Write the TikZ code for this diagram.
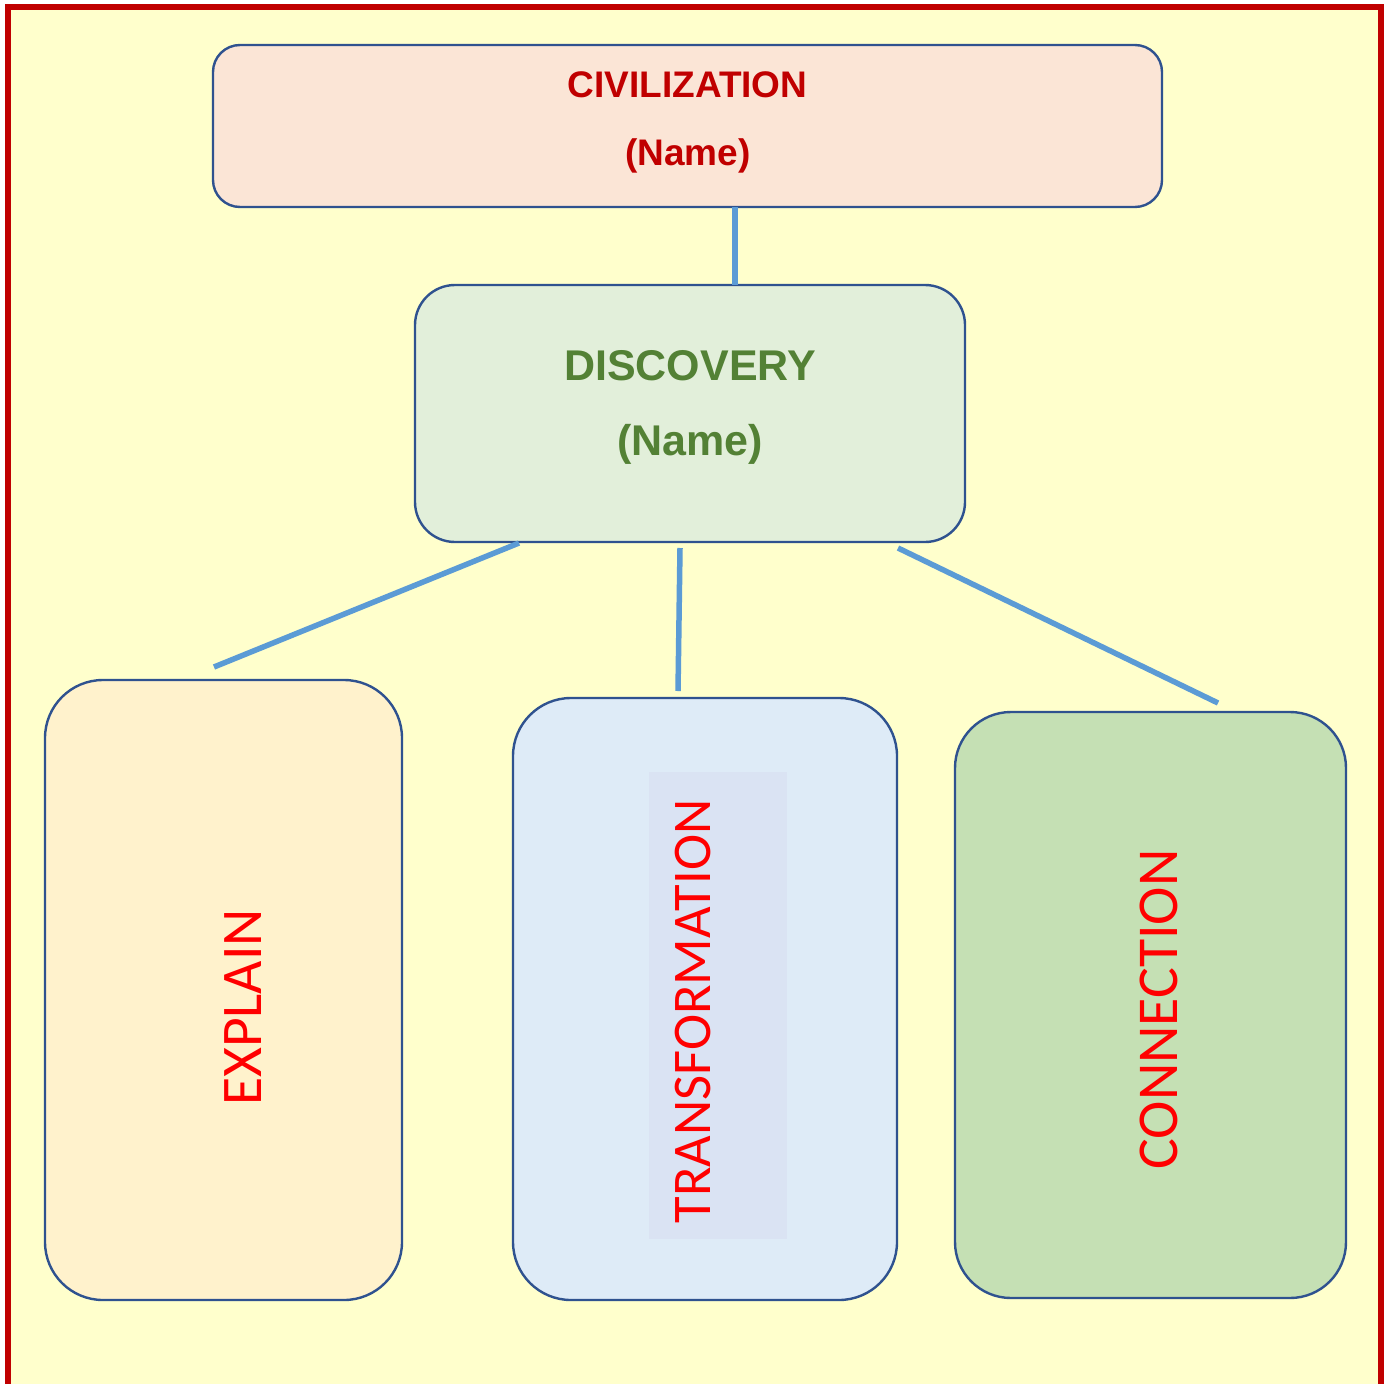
\documentclass[tikz,border=0pt]{standalone}
\usepackage{fontspec}
\setmainfont{Liberation Sans}
\newfontfamily\carlitofont{Carlito}
\definecolor{bordred}{HTML}{C00000}
\definecolor{bgyellow}{HTML}{FFFFCC}
\definecolor{boxline}{HTML}{2F528F}
\definecolor{civfill}{HTML}{FBE5D6}
\definecolor{civtext}{HTML}{C00000}
\definecolor{discfill}{HTML}{E2EFDA}
\definecolor{disctext}{HTML}{538135}
\definecolor{explfill}{HTML}{FFF2CC}
\definecolor{transfill}{HTML}{DEEBF7}
\definecolor{transinner}{HTML}{DAE3F3}
\definecolor{connfill}{HTML}{C5E0B4}
\definecolor{redtext}{HTML}{FF0000}
\definecolor{linkblue}{HTML}{5B9BD5}
\tikzset{
  box/.style={draw=boxline, line width=2.4pt, rectangle, inner sep=0pt, outer sep=0pt},
  link/.style={draw=linkblue, line width=5.5pt},
  headA/.style={font=\fontsize{37}{40}\selectfont\bfseries, text=civtext, anchor=base, inner sep=0pt},
  headB/.style={font=\fontsize{43}{46}\selectfont\bfseries, text=disctext, anchor=base, inner sep=0pt},
  vlabel/.style={text=redtext, rotate=90, anchor=center, inner sep=0pt},
}
\begin{document}
\begin{tikzpicture}[x=1pt,y=-1pt]
\useasboundingbox (0,0) rectangle (1388,1383);
\clip (0,0) rectangle (1388,1383);
\fill[white] (0,0) rectangle (1388,1383);
\fill[bgyellow] (8,7) rectangle (1381,1420);
\draw[bordred, line width=6pt] (8,7) rectangle (1381,1420);

% boxes
\node[box, fill=civfill, rounded corners=27pt, minimum width=949pt, minimum height=162pt] (civ) at (687.5,126) {};
\node[box, fill=discfill, rounded corners=40pt, minimum width=550pt, minimum height=257pt] (disc) at (690,413.5) {};
\node[box, fill=explfill, rounded corners=58pt, minimum width=357pt, minimum height=620pt] (expl) at (223.5,990) {};
\node[box, fill=transfill, rounded corners=58pt, minimum width=384pt, minimum height=602pt] (trans) at (705,999) {};
\node[box, fill=connfill, rounded corners=56pt, minimum width=391pt, minimum height=586pt] (conn) at (1150.5,1005) {};
\fill[transinner] (649,772) rectangle (787,1239);

% texts
\node[headA] (civT) at (687.5,98) {CIVILIZATION};
\node[headA] (civN) at (688,166) {(Name)};
\node[headB] (discT) at (690,380) {DISCOVERY};
\node[headB] (discN) at (690,455) {(Name)};
\node[vlabel, font=\carlitofont\fontsize{57.5}{60}\selectfont] (explT) at (243.5,1007.5) {EXPLAIN};
\node[vlabel, font=\carlitofont\fontsize{54.5}{58}\selectfont] (transT) at (692.5,1011.5) {TRANSFORMATION};
\node[vlabel, font=\carlitofont\fontsize{57.8}{60}\selectfont] (connT) at (1159,1009.5) {CONNECTION};

% connector end points
\coordinate (civB) at (735,207);
\coordinate (discTop) at (735,285);
\coordinate (discL) at (519,543);
\coordinate (explTop) at (214,667);
\coordinate (discM) at (680,548);
\coordinate (transTop) at (678,691);
\coordinate (discR) at (898,548);
\coordinate (connTop) at (1218,703);

\draw[link, line width=6pt] (civB) -- (discTop);
\draw[link] (discL) -- (explTop);
\draw[link] (discM) -- (transTop);
\draw[link] (discR) -- (connTop);
\end{tikzpicture}
\end{document}
